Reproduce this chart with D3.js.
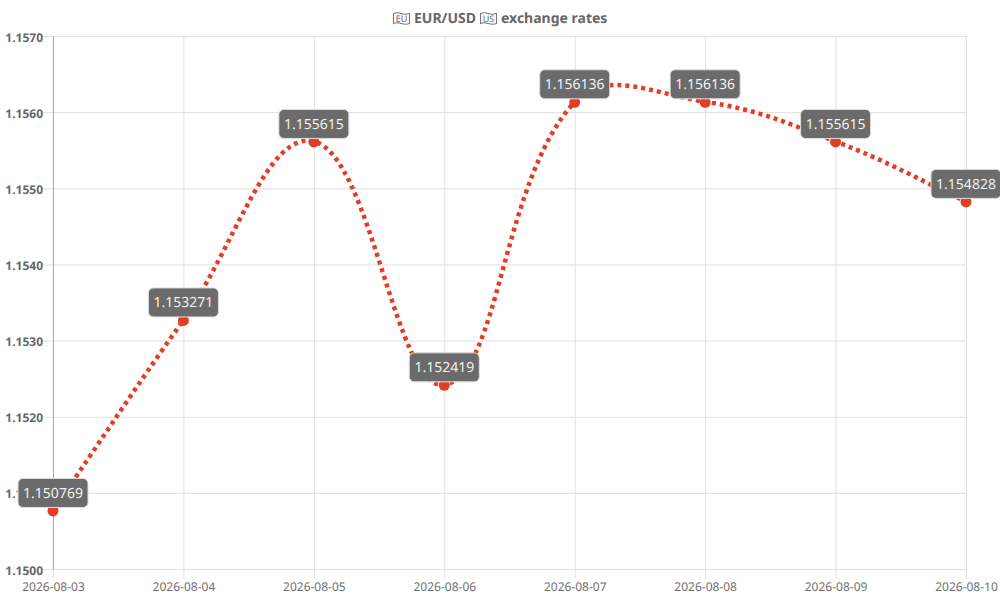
<!DOCTYPE html>
<html>
<head>
<meta charset="utf-8">
<script src="https://cdn.jsdelivr.net/npm/d3@7"></script>
<style>
	html, body { margin: 0; padding: 0; background: #fff; }
	text { font-family: "Noto Sans", sans-serif; text-rendering: geometricPrecision; opacity: 0.99; }
</style>
</head>
<body>
<div id="chart"></div>
<script>
const dates = ["2026-08-03", "2026-08-04", "2026-08-05", "2026-08-06", "2026-08-07", "2026-08-08", "2026-08-09", "2026-08-10"];
const rates = [1.150769, 1.153271, 1.155615, 1.152419, 1.156136, 1.156136, 1.155615, 1.154828];
const rateLabels = ["1.150769", "1.153271", "1.155615", "1.152419", "1.156136", "1.156136", "1.155615", "1.154828"];
const yTicks = [1.150, 1.151, 1.152, 1.153, 1.154, 1.155, 1.156, 1.157];
const titleParts = [
	{ flag: "EU", x: 393 },
	{ text: "EUR/USD", x: 414 },
	{ flag: "US", x: 480 },
	{ text: "exchange rates", x: 501 }
];

const width = 1000, height = 600;
const margin = { top: 36, right: 34, bottom: 31, left: 53 };
const plotW = width - margin.left - margin.right;
const plotH = height - margin.top - margin.bottom;

const svg = d3.select("#chart")
	.append("svg")
	.attr("width", width)
	.attr("height", height)
	.style("display", "block");

const x = d3.scalePoint()
	.domain(dates)
	.range([margin.left, width - margin.right]);
const y = d3.scaleLinear()
	.domain([1.150, 1.157])
	.range([height - margin.bottom, margin.top]);

// title, the flags come out as little outlined glyphs in the original
const titleG = svg.append("g");
titleParts.forEach(p => {
	if (p.flag) {
		const f = titleG.append("g").attr("transform", `translate(${p.x},12)`);
		f.append("path")
			.attr("d", "M0.5 1.5 Q4 0 8 1.5 T16.5 1.5 V11.5 Q13 13 8 11.5 T0.5 11.5 Z")
			.attr("fill", "none")
			.attr("stroke", "#777")
			.attr("stroke-width", 1.1);
		f.append("text")
			.attr("x", 8.5)
			.attr("y", 9.6)
			.attr("text-anchor", "middle")
			.attr("font-size", 9)
			.attr("fill", "#666")
			.text(p.flag);
	} else {
		titleG.append("text")
			.attr("x", p.x)
			.attr("y", 23)
			.attr("font-size", 14)
			.attr("font-weight", 700)
			.attr("fill", "#666")
			.text(p.text);
	}
});

// grid
const xGrid = svg.append("g")
	.attr("transform", `translate(0,${height - margin.bottom})`)
	.call(d3.axisBottom(x).tickSize(10).tickSizeOuter(0).tickPadding(3));
const yGrid = svg.append("g")
	.attr("transform", `translate(${margin.left},0)`)
	.call(d3.axisLeft(y).tickValues(yTicks).tickFormat(d3.format(".4f"))
		.tickSize(10).tickSizeOuter(0).tickPadding(0));

xGrid.select(".domain").attr("stroke", "#ccc");
yGrid.select(".domain").attr("stroke", "#a8a8a8");
xGrid.selectAll(".tick line").attr("stroke", "#e0e0e0");
yGrid.selectAll(".tick line").attr("stroke", "#e0e0e0");
xGrid.selectAll(".tick").append("line").attr("y2", -plotH).attr("stroke", "#e0e0e0");
yGrid.selectAll(".tick").append("line").attr("x2", plotW).attr("stroke", "#e0e0e0");
xGrid.select(".domain").raise();
yGrid.select(".domain").raise();
xGrid.selectAll("text").attr("font-size", 12).attr("fill", "#6e6e6e").attr("font-family", '"Noto Sans", sans-serif');
yGrid.selectAll("text").attr("font-size", 12).attr("font-weight", 700).attr("fill", "#666").attr("font-family", '"Noto Sans", sans-serif').attr("dy", "0.42em");

// same bezier spline chart.js uses, tension 0.4
const tension = 0.4;
const pts = dates.map((d, i) => [x(d), y(rates[i])]);
function controls(p0, p1, p2) {
	const d01 = Math.hypot(p1[0] - p0[0], p1[1] - p0[1]);
	const d12 = Math.hypot(p2[0] - p1[0], p2[1] - p1[1]);
	const s01 = d01 / (d01 + d12) || 0;
	const s12 = d12 / (d01 + d12) || 0;
	return {
		prev: [p1[0] - tension * s01 * (p2[0] - p0[0]), p1[1] - tension * s01 * (p2[1] - p0[1])],
		next: [p1[0] + tension * s12 * (p2[0] - p0[0]), p1[1] + tension * s12 * (p2[1] - p0[1])]
	};
}
const cps = pts.map((p, i) => controls(pts[i - 1] || p, p, pts[i + 1] || p));
const path = d3.path();
path.moveTo(pts[0][0], pts[0][1]);
for (let i = 1; i < pts.length; i++) {
	path.bezierCurveTo(cps[i - 1].next[0], cps[i - 1].next[1], cps[i].prev[0], cps[i].prev[1], pts[i][0], pts[i][1]);
}

svg.append("path")
	.attr("d", path.toString())
	.attr("fill", "none")
	.attr("stroke", "#e43d25")
	.attr("stroke-width", 4.5)
	.attr("stroke-dasharray", "4 4");

svg.selectAll("circle")
	.data(dates)
	.join("circle")
	.attr("cx", d => x(d))
	.attr("cy", (d, i) => y(rates[i]) + 0.5)
	.attr("r", 5.5)
	.attr("fill", "#e43d25");

// value labels
const labelW = 70, labelH = 29;
const labels = svg.selectAll("g.label")
	.data(dates)
	.join("g")
	.attr("class", "label")
	.attr("transform", (d, i) => `translate(${x(d)},${y(rates[i]) - 17.5})`);
labels.append("rect")
	.attr("x", -labelW / 2)
	.attr("y", -labelH / 2)
	.attr("width", labelW)
	.attr("height", labelH)
	.attr("rx", 5)
	.attr("fill", "#6b6b6b")
	.attr("stroke", "#ddd")
	.attr("stroke-width", 1);
labels.append("text")
	.attr("text-anchor", "middle")
	.attr("dy", "0.35em")
	.attr("font-size", 14)
	.attr("fill", "#f4f4f4")
	.text((d, i) => rateLabels[i]);
</script>
</body>
</html>
